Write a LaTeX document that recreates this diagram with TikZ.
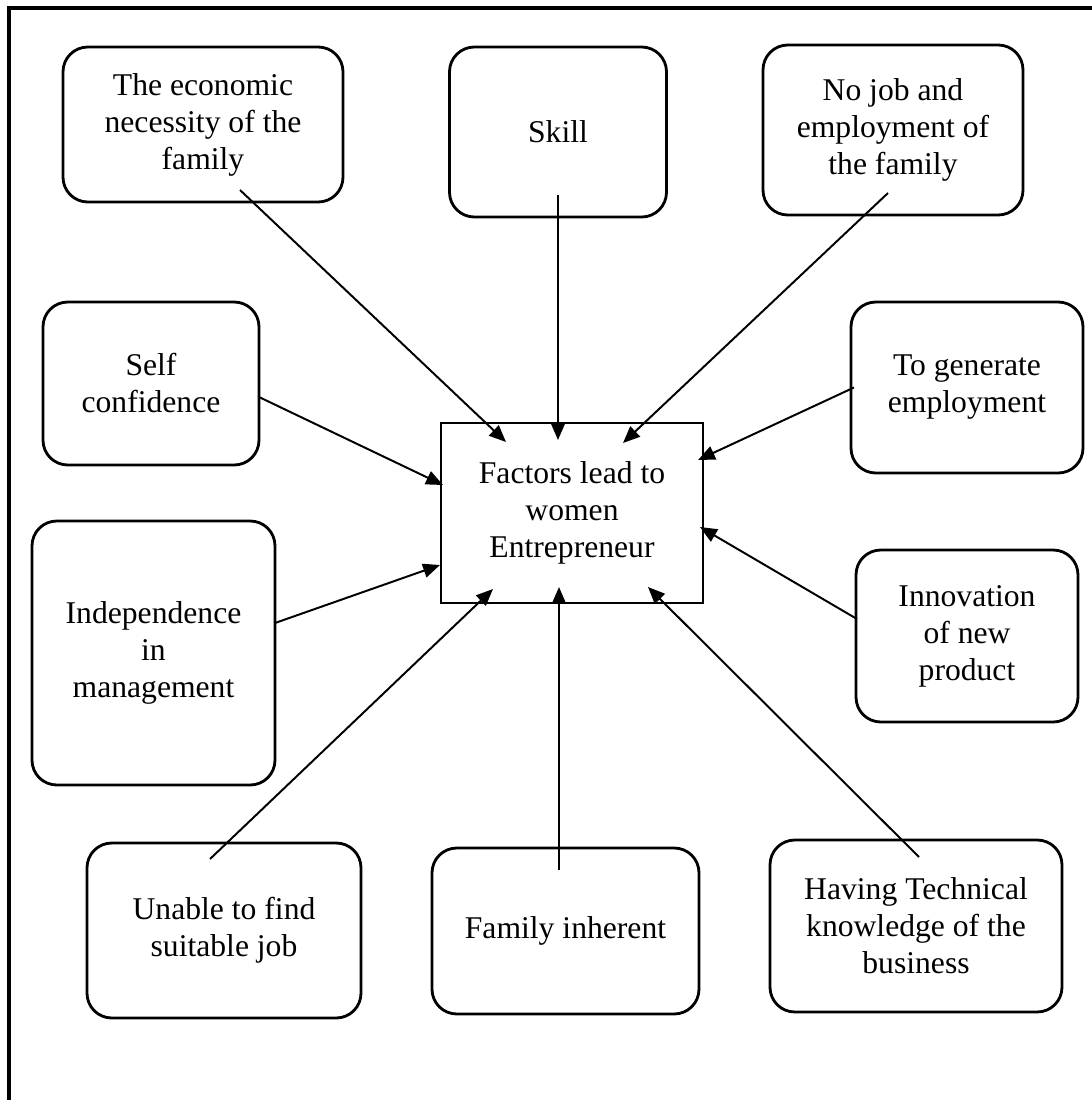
\documentclass[tikz,border=0pt]{standalone}
\usepackage{fontspec}
\setmainfont{Liberation Serif}
\usetikzlibrary{arrows.meta}

\begin{document}
\begin{tikzpicture}[
x=0.025cm, y=-0.025cm,
factor/.style 2 args={
	draw, line width=2pt, rounded corners=0.62cm,
	align=center, inner sep=0pt,
	minimum width=#1*0.025cm, minimum height=#2*0.025cm
},
hub/.style={
	draw, line width=2pt, align=center, inner sep=0pt,
	minimum width=262*0.025cm, minimum height=180*0.025cm
},
pointer/.style={-{Triangle[length=12pt,width=10pt]}, line width=1.4pt},
every node/.style={font=\fontsize{22.5}{26.3}\selectfont}
]
\useasboundingbox (0,0) rectangle (1092,1100);
\draw[line width=2.2pt] (9,1100) -- (9,8) -- (1092,8);

\node[hub] (factors) at (572,513) {Factors lead to\\women\\Entrepreneur};

\node[factor={280}{155}] (econ) at (203,124.5) {The economic\\necessity of the\\family};
\node[factor={217}{170}] (skill) at (558,132) {Skill};
\node[factor={260}{170}] (nojob) at (893,130) {No job and\\employment of\\the family};
\node[factor={216}{163}] (selfconf) at (151,383.5) {Self\\confidence};
\node[factor={232}{171}] (generate) at (967,387.5) {To generate\\employment};
\node[factor={243}{264}] (indep) at (153.5,653) {Independence\\in\\management};
\node[factor={222}{172}] (innov) at (967,636) {Innovation\\of new\\product};
\node[factor={274}{175}] (unable) at (224,930.5) {Unable to find\\suitable job};
\node[factor={267}{166}] (inherent) at (565.5,931) {Family inherent};
\node[factor={292}{172}] (technical) at (916,926) {Having Technical\\knowledge of the\\business};

\foreach \src/\sx/\sy/\tx/\ty in {econ/37/65.5/-66/-71, skill/0/63/-14/-73,
	nojob/-5/63/51/-70, selfconf/108/13.5/-129/-28, generate/-113/0/126/-53,
	indep/121.5/-30/-132/52, innov/-110/-17/128/14, unable/-14/-71.5/-79/76,
	inherent/-6.5/-61/-13/74, technical/3/-69/76/74}
{
	\draw[pointer] ([shift={(\sx,\sy)}]\src.center) -- ([shift={(\tx,\ty)}]factors.center);
}
\end{tikzpicture}
\end{document}
